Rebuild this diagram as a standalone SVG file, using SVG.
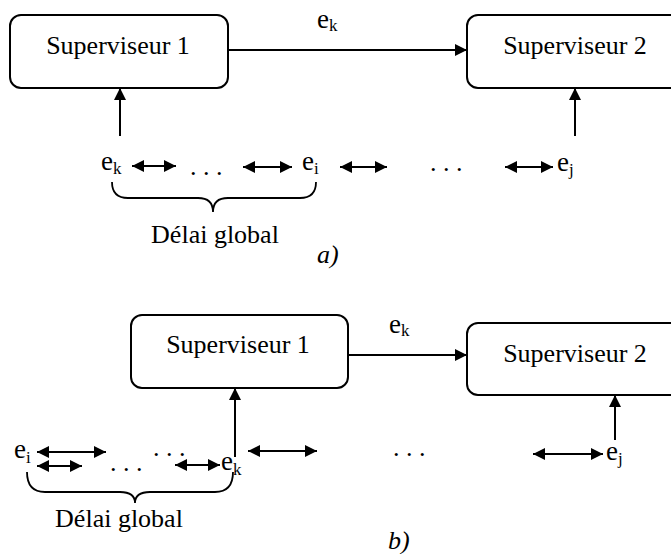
<svg xmlns="http://www.w3.org/2000/svg" width="671" height="554" viewBox="0 0 671 554">
<style>
.box{fill:#fff;stroke:#000;stroke-width:2}
.t{font-family:'Liberation Serif','DejaVu Serif',serif;font-size:26px;fill:#000}
.lbl{font-family:'Liberation Serif','DejaVu Serif',serif;font-size:27px;fill:#000}
.sub{font-size:17px}
.da{fill:none;stroke:#000;stroke-width:2.2;marker-start:url(#h);marker-end:url(#h)}
.sa{fill:none;stroke:#000;stroke-width:2;marker-end:url(#h)}
.br{fill:none;stroke:#000;stroke-width:1.8}
</style>
<defs>
<marker id="h" markerUnits="userSpaceOnUse" viewBox="0 0 12 12" markerWidth="12" markerHeight="12" refX="12" refY="6" orient="auto-start-reverse">
<path d="M0,0 L12,6 L0,12 z" fill="#000"/>
</marker>
</defs>

<g id="a-sup1"><rect class="box" x="10" y="15" width="218" height="73" rx="11"/><text class="t" x="118" y="54" text-anchor="middle" font-family="Liberation Serif, serif">Superviseur 1</text></g>
<g id="a-sup2"><rect class="box" x="467" y="15" width="218" height="73" rx="11"/><text class="t" x="575" y="54" text-anchor="middle">Superviseur 2</text></g>
<g id="b-sup1"><rect class="box" x="131" y="315" width="217" height="73" rx="11"/><text class="t" x="238" y="353" text-anchor="middle">Superviseur 1</text></g>
<g id="b-sup2"><rect class="box" x="467" y="323" width="218" height="72" rx="11"/><text class="t" x="575" y="362" text-anchor="middle">Superviseur 2</text></g>

<g id="connectors">
<line class="sa" x1="228" y1="50" x2="467" y2="50"/>
<line class="sa" x1="120" y1="136" x2="120" y2="88"/>
<line class="sa" x1="575" y1="136" x2="575" y2="88"/>
<line class="da" x1="132" y1="166" x2="176" y2="166"/>
<line class="da" x1="243" y1="167" x2="292" y2="167"/>
<line class="da" x1="340" y1="167" x2="387" y2="167"/>
<line class="da" x1="505" y1="167" x2="553" y2="167"/>

<line class="sa" x1="348" y1="355" x2="467" y2="355"/>
<line class="sa" x1="235" y1="457" x2="235" y2="388"/>
<line class="sa" x1="615" y1="440" x2="615" y2="395"/>
<line class="da" x1="37" y1="452" x2="106" y2="452"/>
<line class="da" x1="37" y1="466" x2="82" y2="466"/>
<line class="da" x1="175" y1="465" x2="220" y2="465"/>
<line class="da" x1="248" y1="451" x2="317" y2="451"/>
<line class="da" x1="533" y1="454" x2="603" y2="454"/>
</g>

<g id="labels-a">
<text class="lbl" x="317" y="28">e<tspan class="sub" dy="3">k</tspan></text>
<text class="lbl" x="101" y="170">e<tspan class="sub" dy="4">k</tspan></text>
<text class="t" x="190" y="175">. . .</text>
<text class="lbl" x="302" y="170">e<tspan class="sub" dy="4">i</tspan></text>
<text class="t" x="430" y="171">. . .</text>
<text class="lbl" x="557" y="171">e<tspan class="sub" dy="4">j</tspan></text>
<path class="br" d="M112,182 Q112,198 128,198 L198,198 Q213,198 213,212 Q213,198 228,198 L300,198 Q316,198 316,182"/>
<text class="t" x="215" y="243" text-anchor="middle">Délai global</text>
<text class="t" x="317" y="263" font-style="italic">a)</text>
</g>

<g id="labels-b">
<text class="lbl" x="389" y="333">e<tspan class="sub" dy="3">k</tspan></text>
<text class="lbl" x="14" y="458">e<tspan class="sub" dy="5">i</tspan></text>
<text class="t" x="153" y="456">. . .</text>
<text class="t" x="110" y="471">. . .</text>
<text class="lbl" x="221" y="470">e<tspan class="sub" dy="5">k</tspan></text>
<text class="t" x="393" y="456">. . .</text>
<text class="lbl" x="606" y="460">e<tspan class="sub" dy="4">j</tspan></text>
<path class="br" d="M27,472 Q27,492 45,492 L120,492 Q135,492 135,503 Q135,492 150,492 L215,492 Q233,492 233,472"/>
<text class="t" x="119" y="527" text-anchor="middle">Délai global</text>
<text class="t" x="388" y="549" font-style="italic">b)</text>
</g>
</svg>
